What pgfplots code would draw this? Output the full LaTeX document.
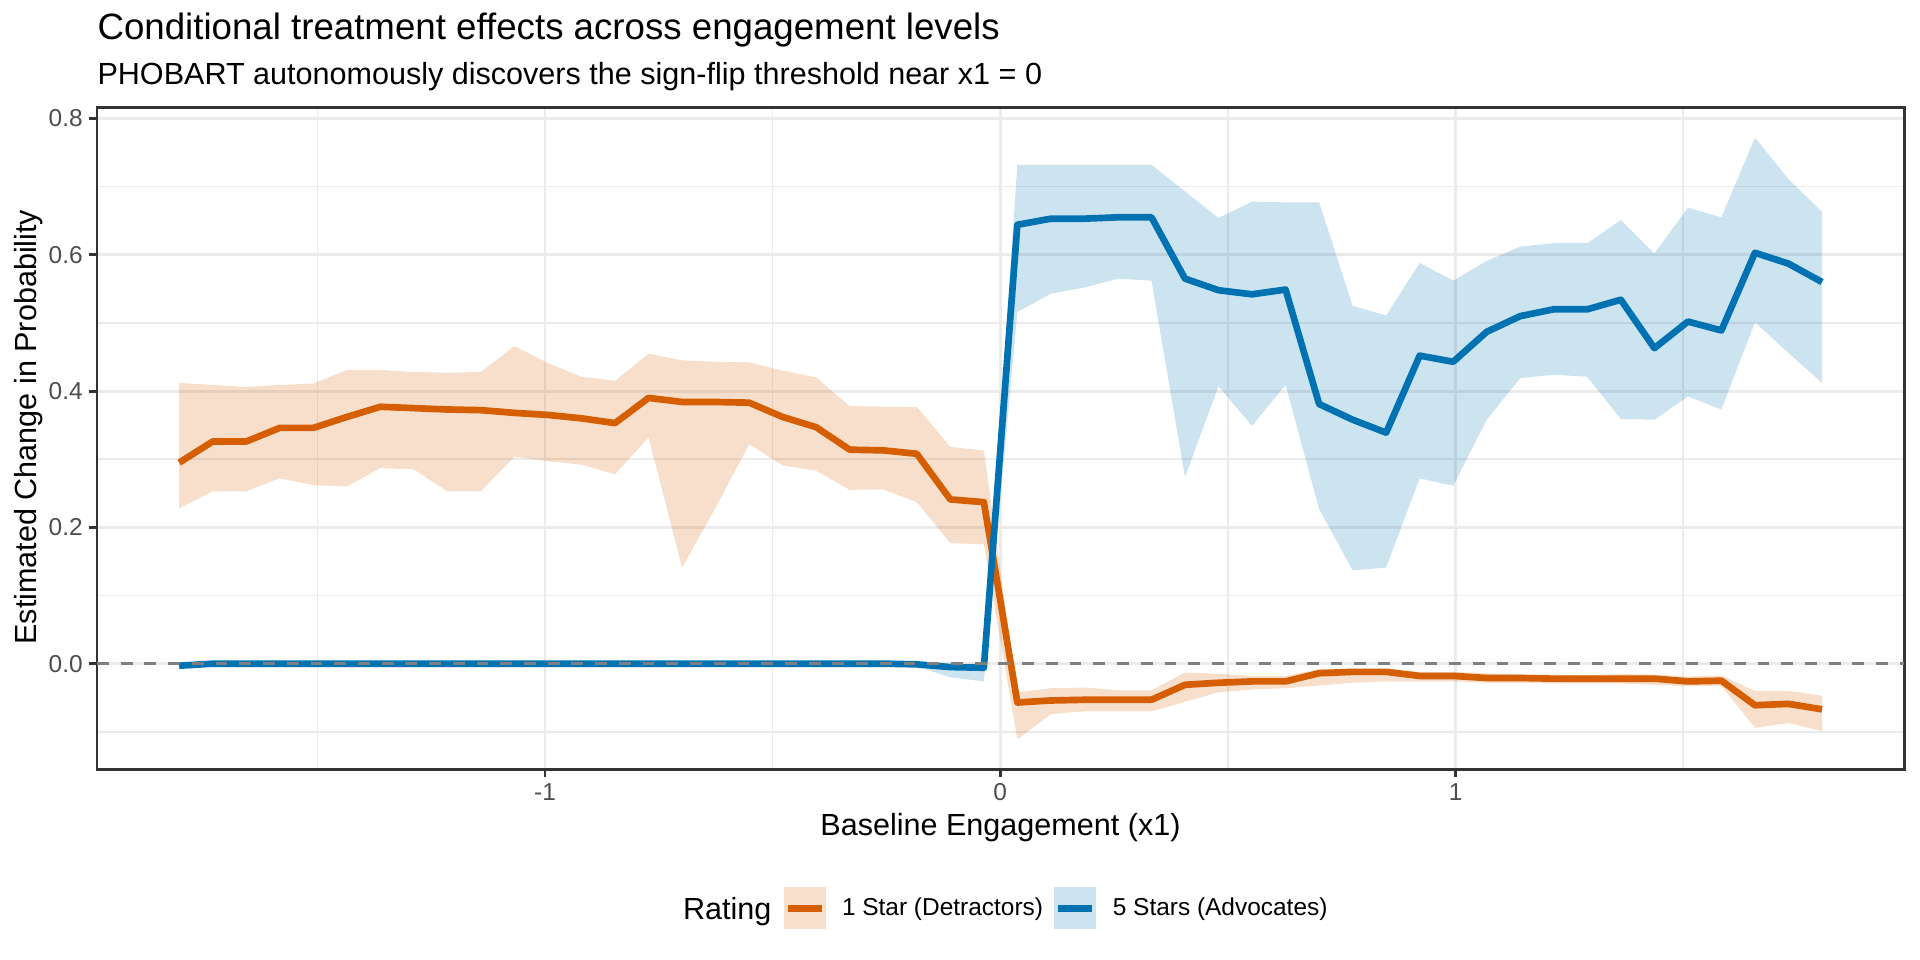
\documentclass[border=0pt]{standalone}
\usepackage{fontspec}
\setmainfont{Liberation Sans}
\usepackage{pgfplots}
\pgfplotsset{compat=1.18}
\usepackage{pgfplotstable}

\definecolor{orangeL}{HTML}{D55E00}
\definecolor{blueL}{HTML}{0072B2}
\definecolor{grey92}{HTML}{EBEBEB}
\definecolor{grey20}{HTML}{333333}
\definecolor{grey30}{HTML}{4D4D4D}
\definecolor{grey50}{HTML}{7F7F7F}

% 1 Star (Detractors): x, mean
\pgfplotstableread{
x m
-1.8035 0.295
-1.7299 0.326
-1.6562 0.326
-1.5826 0.346
-1.5089 0.346
-1.4353 0.362
-1.3617 0.377
-1.2880 0.375
-1.2144 0.373
-1.1407 0.372
-1.0671 0.368
-0.9935 0.365
-0.9198 0.360
-0.8462 0.353
-0.7725 0.390
-0.6989 0.384
-0.6253 0.384
-0.5516 0.383
-0.4780 0.362
-0.4043 0.347
-0.3307 0.314
-0.2571 0.313
-0.1834 0.308
-0.1098 0.241
-0.0361 0.237
0.0375 -0.057
0.1111 -0.054
0.1848 -0.053
0.2584 -0.053
0.3321 -0.053
0.4057 -0.031
0.4793 -0.028
0.5530 -0.026
0.6266 -0.026
0.7003 -0.014
0.7739 -0.012
0.8475 -0.012
0.9212 -0.018
0.9948 -0.018
1.0685 -0.021
1.1421 -0.021
1.2157 -0.022
1.2894 -0.022
1.3630 -0.022
1.4367 -0.022
1.5103 -0.026
1.5839 -0.025
1.6576 -0.061
1.7312 -0.059
1.8049 -0.067
}\detr

% 1 Star interval: upper bound left to right, then lower bound right to left
\pgfplotstableread{
x y
-1.8035 0.412
-1.7299 0.409
-1.6562 0.406
-1.5826 0.409
-1.5089 0.411
-1.4353 0.431
-1.3617 0.431
-1.2880 0.428
-1.2144 0.427
-1.1407 0.428
-1.0671 0.466
-0.9935 0.441
-0.9198 0.421
-0.8462 0.415
-0.7725 0.455
-0.6989 0.445
-0.6253 0.443
-0.5516 0.442
-0.4780 0.430
-0.4043 0.420
-0.3307 0.378
-0.2571 0.377
-0.1834 0.377
-0.1098 0.318
-0.0361 0.313
0.0375 -0.042
0.1111 -0.036
0.1848 -0.035
0.2584 -0.039
0.3321 -0.039
0.4057 -0.013
0.4793 -0.015
0.5530 -0.018
0.6266 -0.018
0.7003 -0.008
0.7739 -0.008
0.8475 -0.008
0.9212 -0.012
0.9948 -0.012
1.0685 -0.014
1.1421 -0.016
1.2157 -0.016
1.2894 -0.017
1.3630 -0.015
1.4367 -0.016
1.5103 -0.019
1.5839 -0.017
1.6576 -0.040
1.7312 -0.040
1.8049 -0.047
1.8049 -0.099
1.7312 -0.087
1.6576 -0.094
1.5839 -0.033
1.5103 -0.033
1.4367 -0.031
1.3630 -0.029
1.2894 -0.029
1.2157 -0.029
1.1421 -0.028
1.0685 -0.028
0.9948 -0.026
0.9212 -0.026
0.8475 -0.026
0.7739 -0.028
0.7003 -0.032
0.6266 -0.036
0.5530 -0.038
0.4793 -0.042
0.4057 -0.056
0.3321 -0.070
0.2584 -0.070
0.1848 -0.070
0.1111 -0.074
0.0375 -0.111
-0.0361 0.175
-0.1098 0.177
-0.1834 0.237
-0.2571 0.256
-0.3307 0.255
-0.4043 0.283
-0.4780 0.291
-0.5516 0.322
-0.6253 0.229
-0.6989 0.141
-0.7725 0.332
-0.8462 0.278
-0.9198 0.292
-0.9935 0.297
-1.0671 0.304
-1.1407 0.253
-1.2144 0.253
-1.2880 0.285
-1.3617 0.287
-1.4353 0.260
-1.5089 0.262
-1.5826 0.272
-1.6562 0.253
-1.7299 0.253
-1.8035 0.228
}\detrband

% 5 Stars (Advocates): x, mean
\pgfplotstableread{
x m
-1.8035 -0.003
-1.7299 0.000
-1.6562 0.000
-1.5826 0.000
-1.5089 0.000
-1.4353 0.000
-1.3617 0.000
-1.2880 0.000
-1.2144 0.000
-1.1407 0.000
-1.0671 0.000
-0.9935 0.000
-0.9198 0.000
-0.8462 0.000
-0.7725 0.000
-0.6989 0.000
-0.6253 0.000
-0.5516 0.000
-0.4780 0.000
-0.4043 0.000
-0.3307 0.000
-0.2571 0.000
-0.1834 -0.001
-0.1098 -0.005
-0.0361 -0.006
0.0375 0.644
0.1111 0.653
0.1848 0.653
0.2584 0.655
0.3321 0.655
0.4057 0.565
0.4793 0.548
0.5530 0.542
0.6266 0.549
0.7003 0.381
0.7739 0.358
0.8475 0.339
0.9212 0.452
0.9948 0.443
1.0685 0.487
1.1421 0.510
1.2157 0.520
1.2894 0.520
1.3630 0.534
1.4367 0.463
1.5103 0.502
1.5839 0.489
1.6576 0.603
1.7312 0.587
1.8049 0.560
}\advo

% 5 Stars interval: upper bound left to right, then lower bound right to left
\pgfplotstableread{
x y
-1.8035 0.000
-1.7299 0.001
-1.6562 0.001
-1.5826 0.001
-1.5089 0.001
-1.4353 0.001
-1.3617 0.001
-1.2880 0.001
-1.2144 0.001
-1.1407 0.001
-1.0671 0.001
-0.9935 0.001
-0.9198 0.001
-0.8462 0.001
-0.7725 0.001
-0.6989 0.001
-0.6253 0.001
-0.5516 0.001
-0.4780 0.001
-0.4043 0.001
-0.3307 0.001
-0.2571 0.001
-0.1834 0.001
-0.1098 0.000
-0.0361 0.000
0.0375 0.732
0.1111 0.732
0.1848 0.732
0.2584 0.732
0.3321 0.732
0.4057 0.693
0.4793 0.654
0.5530 0.678
0.6266 0.677
0.7003 0.677
0.7739 0.525
0.8475 0.511
0.9212 0.588
0.9948 0.562
1.0685 0.591
1.1421 0.612
1.2157 0.617
1.2894 0.617
1.3630 0.651
1.4367 0.602
1.5103 0.669
1.5839 0.655
1.6576 0.772
1.7312 0.711
1.8049 0.663
1.8049 0.412
1.7312 0.456
1.6576 0.501
1.5839 0.373
1.5103 0.392
1.4367 0.358
1.3630 0.359
1.2894 0.421
1.2157 0.424
1.1421 0.419
1.0685 0.358
0.9948 0.261
0.9212 0.272
0.8475 0.141
0.7739 0.137
0.7003 0.227
0.6266 0.409
0.5530 0.349
0.4793 0.407
0.4057 0.274
0.3321 0.562
0.2584 0.565
0.1848 0.552
0.1111 0.543
0.0375 0.516
-0.0361 -0.026
-0.1098 -0.020
-0.1834 -0.004
-0.2571 -0.002
-0.3307 -0.001
-0.4043 -0.001
-0.4780 -0.001
-0.5516 -0.001
-0.6253 -0.001
-0.6989 -0.001
-0.7725 -0.001
-0.8462 -0.001
-0.9198 -0.001
-0.9935 -0.001
-1.0671 -0.001
-1.1407 -0.001
-1.2144 -0.001
-1.2880 -0.001
-1.3617 -0.001
-1.4353 -0.001
-1.5089 -0.001
-1.5826 -0.001
-1.6562 -0.001
-1.7299 -0.002
-1.8035 -0.008
}\advoband

\begin{document}
\begin{tikzpicture}
\useasboundingbox (-34.92pt,-68.65pt) rectangle (656.28pt,276.95pt);
\begin{axis}[
  at={(0pt,0pt)}, anchor=south west,
  width=650.52pt, height=238.21pt, scale only axis,
  xmin=-1.984, xmax=1.985, ymin=-0.155, ymax=0.816,
  xtick={-1,0,1}, xticklabels={-1,0,1},
  ytick={0,0.2,0.4,0.6,0.8}, yticklabels={0.0,0.2,0.4,0.6,0.8},
  minor xtick={-1.5,-0.5,0.5,1.5},
  minor ytick={-0.1,0.1,0.3,0.5,0.7},
  grid=both,
  major grid style={grey92, line width=1.07pt},
  minor grid style={grey92, line width=0.53pt},
  major tick length=2.75pt,
  minor tick style={draw=none},
  tick align=outside,
  xtick pos=left, ytick pos=left,
  major tick style={grey20, line width=1.07pt},
  axis line style={grey20, line width=1.07pt},
  ticklabel style={font=\fontsize{8.8}{10}\selectfont, text=grey30},
  xticklabel style={anchor=north, inner sep=0pt, yshift=-2.2pt},
  yticklabel style={anchor=east, inner sep=0pt, xshift=-2.2pt},
]
% ribbons
\addplot[fill=orangeL, fill opacity=0.2, draw=none, forget plot] table[x=x,y=y]{\detrband} -- cycle;
\addplot[fill=blueL, fill opacity=0.2, draw=none, forget plot] table[x=x,y=y]{\advoband} -- cycle;
% lines
\addplot[orangeL, line width=2.4pt, line join=round, forget plot] table[x=x,y=m]{\detr};
\addplot[blueL, line width=2.4pt, line join=round, forget plot] table[x=x,y=m]{\advo};
% zero reference line
\addplot[grey50, line width=1.07pt, dash pattern=on 4.27pt off 4.27pt, forget plot]
  coordinates {(-1.984,0) (1.985,0)};
\end{axis}
% titles
\node[anchor=base west, inner sep=0pt, font=\fontsize{13.2}{15}\selectfont] at (0pt,262.8pt) {Conditional treatment effects across engagement levels};
\node[anchor=base west, inner sep=0pt, font=\fontsize{11}{13}\selectfont] at (0pt,246.6pt) {PHOBART autonomously discovers the sign-flip threshold near x1 = 0};
\node[anchor=base, inner sep=0pt, font=\fontsize{11}{13}\selectfont] at (325.26pt,-23.75pt) {Baseline Engagement (x1)};
\node[anchor=base, rotate=90, inner sep=0pt, font=\fontsize{11}{13}\selectfont] at (-21.7pt,123.2pt) {Estimated Change in Probability};
% legend
\node[anchor=base west, inner sep=0pt, font=\fontsize{11}{13}\selectfont] at (210.8pt,-54.2pt) {Rating};
\fill[orangeL!20] (247.3pt,-57.6pt) rectangle (262.6pt,-42.4pt);
\draw[orangeL, line width=2.4pt] (248.8pt,-50pt) -- (261.1pt,-50pt);
\node[anchor=base west, inner sep=0pt, font=\fontsize{8.8}{10}\selectfont] at (268.0pt,-52.5pt) {1 Star (Detractors)};
\fill[blueL!20] (344.5pt,-57.6pt) rectangle (359.8pt,-42.4pt);
\draw[blueL, line width=2.4pt] (346.0pt,-50pt) -- (358.3pt,-50pt);
\node[anchor=base west, inner sep=0pt, font=\fontsize{8.8}{10}\selectfont] at (365.5pt,-52.5pt) {5 Stars (Advocates)};
\end{tikzpicture}
\end{document}
